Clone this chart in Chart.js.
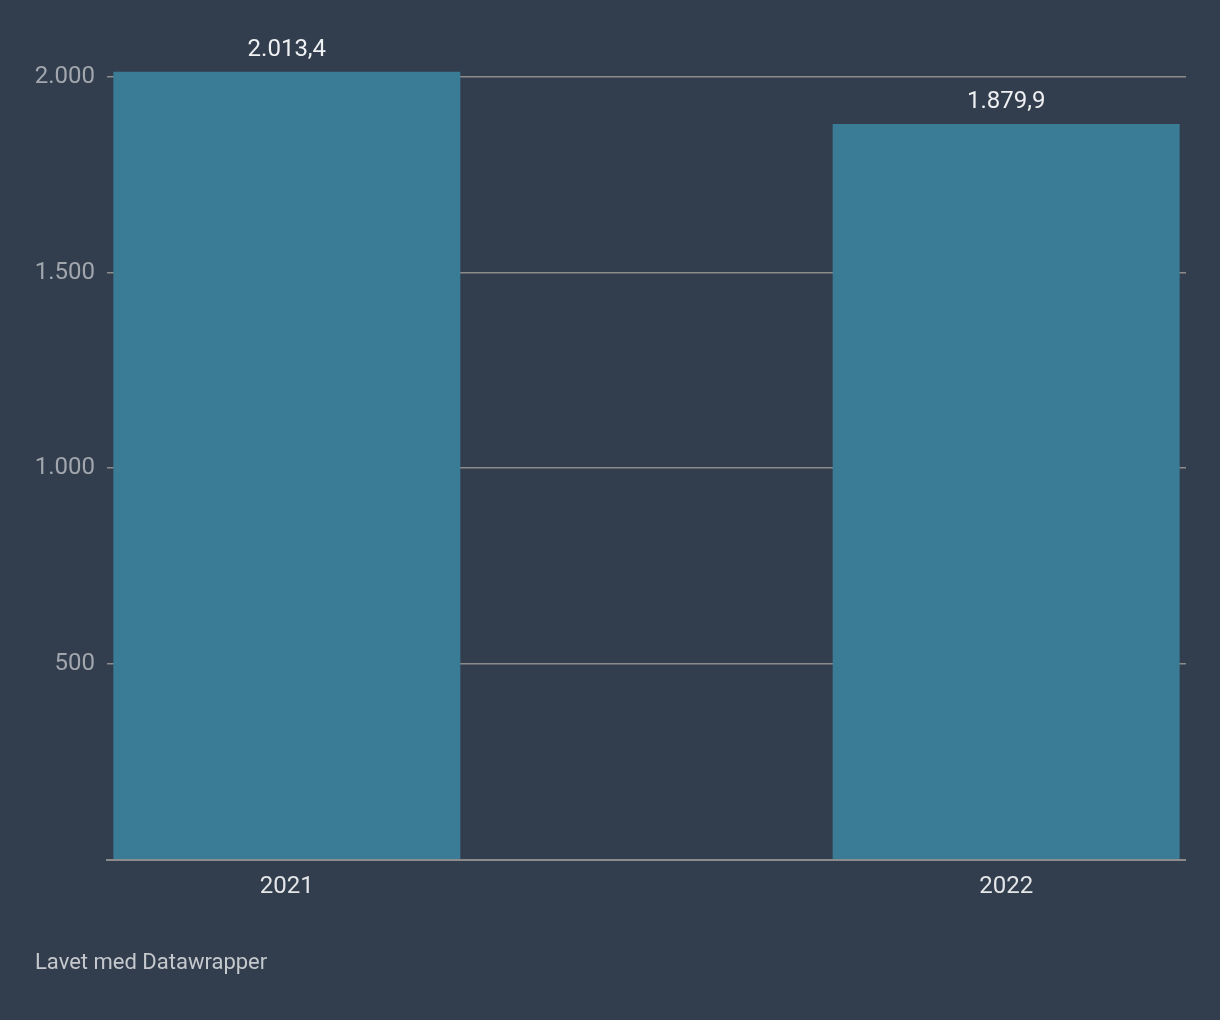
<!DOCTYPE html>
<html>
<head>
<meta charset="utf-8">
<script src="https://cdn.jsdelivr.net/npm/chart.js@4/dist/chart.umd.min.js"></script>
<style>
  html, body { margin: 0; padding: 0; background: #323d4d; }
  #wrap { width: 1220px; height: 1020px; }
</style>
</head>
<body>
<div id="wrap"><canvas id="chartCanvas" width="1220" height="1020"></canvas></div>
<script>
const years = ['2021', '2022'];
const values = [2013.4, 1879.9];
const yTicks = [500, 1000, 1500, 2000];

// danish number format: 2.013,4
function fmt(v, dec) {
    const parts = v.toFixed(dec).split('.');
    parts[0] = parts[0].replace(/\B(?=(\d{3})+(?!\d))/g, '.');
    return parts.join(',');
}

const extras = {
    id: 'extras',
    afterDatasetsDraw(chart) {
        const ctx = chart.ctx;
        const area = chart.chartArea;
        ctx.save();
        // baseline
        ctx.fillStyle = '#8c8c8c';
        ctx.fillRect(area.left - 1, chart.scales.y.getPixelForValue(0), area.right - area.left + 1, 2);
        // value labels
        ctx.font = '24px Roboto';
        ctx.fillStyle = '#eef0f2';
        ctx.textAlign = 'center';
        ctx.textBaseline = 'alphabetic';
        chart.getDatasetMeta(0).data.forEach((bar, i) => {
            ctx.fillText(fmt(values[i], 1), bar.x, bar.y - 16);
        });
        // footer
        ctx.font = '22px Roboto';
        ctx.textAlign = 'left';
        ctx.textBaseline = 'middle';
        ctx.fillStyle = '#c5c8cc';
        ctx.fillText('Lavet med Datawrapper', 35, 963);
        ctx.restore();
    }
};

const ctx = document.getElementById('chartCanvas');
window.myChart = new Chart(ctx, {
    type: 'bar',
    data: {
        datasets: [{
            data: values.map((v, i) => ({ x: i, y: v })),
            backgroundColor: '#3a7b96',
            borderWidth: 0,
            inflateAmount: 0,
            barThickness: 347
        }]
    },
    options: {
        responsive: false,
        animation: false,
        layout: { padding: { top: 38, right: 34, left: 0, bottom: 0 } },
        plugins: { legend: { display: false }, tooltip: { enabled: false } },
        scales: {
            x: {
                type: 'linear',
                offset: false,
                min: -0.25,
                max: 1.25,
                afterBuildTicks: s => { s.ticks = years.map((y, i) => ({ value: i })); },
                afterFit: s => { s.height = 161; },
                grid: { display: false },
                border: { display: false },
                ticks: {
                    color: '#e4e6e8',
                    font: { family: 'Roboto', size: 24 },
                    padding: 6,
                    callback: v => years[v]
                }
            },
            y: {
                min: 0,
                max: 2100,
                afterBuildTicks: s => { s.ticks = yTicks.map(v => ({ value: v })); },
                afterFit: s => { s.width = 107; },
                grid: { color: '#8c8c8c', lineWidth: 1.5, drawTicks: false },
                border: { display: false },
                ticks: {
                    color: '#a2a7ae',
                    font: { family: 'Roboto', size: 24 },
                    padding: 12,
                    callback: v => fmt(v, 0)
                }
            }
        }
    },
    plugins: [extras]
});
</script>
</body>
</html>
